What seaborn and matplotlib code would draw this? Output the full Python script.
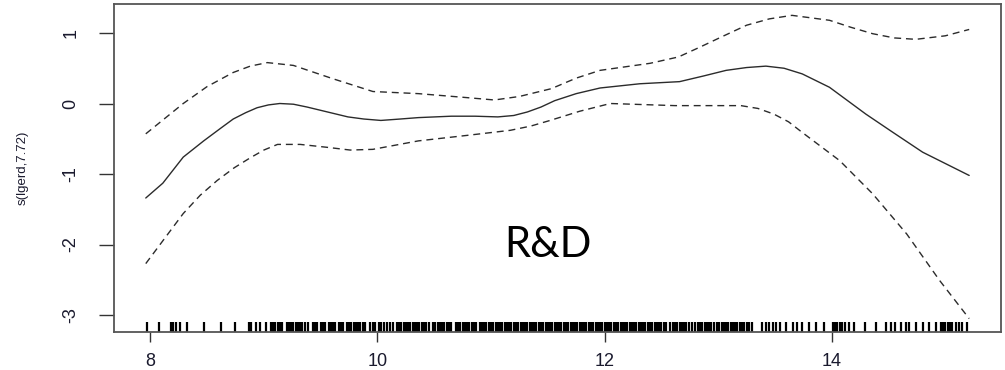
import numpy as np
import matplotlib
matplotlib.use("Agg")
import matplotlib.pyplot as plt
import seaborn as sns

# smooth term and its +/- 2 se band
x_fit = [7.96, 8.11, 8.29, 8.47, 8.62, 8.73, 8.84, 8.94, 9.04, 9.14, 9.26, 9.38, 9.56, 9.74,
         9.88, 10.03, 10.20, 10.36, 10.65, 10.86, 11.06, 11.20, 11.32, 11.44, 11.56, 11.75,
         11.96, 12.31, 12.66, 12.87, 13.07, 13.25, 13.42, 13.58, 13.74, 13.98, 14.30, 14.53,
         14.80, 15.21]
y_fit = [-1.34, -1.13, -0.76, -0.53, -0.35, -0.22, -0.13, -0.06, -0.02, 0.0, -0.01, -0.05,
         -0.12, -0.19, -0.22, -0.24, -0.22, -0.20, -0.18, -0.18, -0.19, -0.17, -0.12, -0.05,
         0.04, 0.14, 0.22, 0.28, 0.31, 0.39, 0.47, 0.51, 0.53, 0.50, 0.42, 0.23, -0.15, -0.40,
         -0.69, -1.02]

x_up = [7.96, 8.29, 8.50, 8.73, 8.88, 9.03, 9.26, 9.61, 9.96, 10.36, 10.74, 11.03, 11.25,
        11.53, 11.75, 11.96, 12.40, 12.65, 12.84, 13.05, 13.25, 13.45, 13.65, 13.98, 14.17,
        14.36, 14.55, 14.74, 15.00, 15.21]
y_up = [-0.43, 0.0, 0.24, 0.44, 0.53, 0.58, 0.54, 0.35, 0.17, 0.14, 0.09, 0.05, 0.10,
        0.21, 0.36, 0.47, 0.57, 0.66, 0.80, 0.96, 1.11, 1.20, 1.25, 1.18, 1.08, 0.99, 0.93,
        0.91, 0.96, 1.05]

x_lo = [7.96, 8.29, 8.44, 8.59, 8.74, 8.88, 9.00, 9.12, 9.32, 9.55, 9.76, 9.96, 10.36,
        10.80, 11.17, 11.35, 11.52, 11.78, 12.05, 12.62, 13.20, 13.35, 13.49, 13.62, 13.74,
        14.07, 14.36, 14.66, 14.95, 15.21]
y_lo = [-2.27, -1.56, -1.30, -1.09, -0.91, -0.77, -0.66, -0.58, -0.58, -0.62, -0.66, -0.65,
        -0.53, -0.45, -0.38, -0.32, -0.24, -0.11, 0.0, -0.03, -0.03, -0.07, -0.15, -0.26,
        -0.41, -0.81, -1.28, -1.85, -2.51, -3.05]

# observed lgerd values (rug)
rug_x = [
    7.97, 8.08, 8.18, 8.20, 8.23, 8.26, 8.32, 8.47, 8.62, 8.75, 8.87, 8.89, 8.93, 8.97,
    9.02, 9.06, 9.08, 9.10, 9.12, 9.14, 9.16,
    9.20, 9.22, 9.24, 9.26, 9.28, 9.30, 9.32, 9.34, 9.36, 9.39,
    9.43, 9.45, 9.47, 9.50, 9.52, 9.54, 9.57, 9.59, 9.61, 9.63, 9.66, 9.68, 9.70,
    9.73, 9.75, 9.77, 9.79, 9.81, 9.83, 9.85, 9.87, 9.89,
    9.93, 9.96, 9.98, 10.01, 10.03, 10.06, 10.08, 10.11, 10.14,
    10.17, 10.19, 10.21, 10.23, 10.25, 10.27, 10.29, 10.31, 10.33, 10.35, 10.37, 10.39,
    10.41, 10.43, 10.45,
    10.49, 10.51, 10.53, 10.55, 10.57, 10.59, 10.61, 10.63, 10.65,
    10.69, 10.71, 10.73, 10.75, 10.77, 10.79, 10.81, 10.83, 10.85, 10.87,
    10.90, 10.92, 10.94, 10.96, 10.98, 11.00, 11.02, 11.04, 11.06, 11.08, 11.10, 11.12,
    11.14, 11.16, 11.18, 11.20, 11.22,
    11.24, 11.26, 11.28, 11.30, 11.32, 11.34, 11.36, 11.38, 11.40, 11.42, 11.44, 11.46,
    11.48, 11.50, 11.52, 11.54, 11.56, 11.58, 11.60, 11.62, 11.64, 11.66, 11.68, 11.70,
    11.72, 11.74, 11.76, 11.78,
    11.80, 11.82, 11.84, 11.86, 11.88, 11.90,
    11.92, 11.94, 11.96, 11.98, 12.00, 12.02, 12.04, 12.06, 12.08, 12.10,
    12.12, 12.14, 12.16, 12.18, 12.20, 12.22, 12.24, 12.26, 12.28, 12.30, 12.32, 12.34,
    12.36, 12.38, 12.40, 12.42, 12.44, 12.46, 12.48, 12.50, 12.52, 12.54,
    12.58, 12.60, 12.62, 12.64, 12.66, 12.68, 12.70, 12.72, 12.74, 12.77, 12.80,
    12.82, 12.84, 12.86, 12.88, 12.90, 12.92, 12.94, 12.96,
    12.99, 13.01, 13.03, 13.05, 13.07, 13.09, 13.11, 13.13, 13.15, 13.17, 13.19, 13.21,
    13.23, 13.25, 13.27, 13.30,
    13.39, 13.42, 13.45, 13.48, 13.51, 13.54, 13.60, 13.66, 13.69, 13.74, 13.80, 13.86,
    13.93, 14.01, 14.03, 14.05, 14.07, 14.09, 14.12, 14.15, 14.20, 14.29, 14.39, 14.48,
    14.52, 14.56, 14.61, 14.65, 14.68, 14.74, 14.80, 14.86, 14.92, 14.96, 14.98, 15.00,
    15.02, 15.04, 15.06, 15.09, 15.12, 15.15, 15.19,
]

x_ticks = [8, 10, 12, 14]
y_ticks = [1, 0, -1, -2, -3]

sns.set_style("white")
plt.rcParams['font.family'] = ['Liberation Sans', 'DejaVu Sans']

fig = plt.figure(figsize=(10.05, 3.7), dpi=100)
ax = fig.add_axes([0.1134, 0.1027, 0.8826, 0.8863])

line_col = "#2b2b2b"
sns.lineplot(x=x_fit, y=y_fit, ax=ax, color=line_col, lw=1.0)
sns.lineplot(x=x_up, y=y_up, ax=ax, color=line_col, lw=1.0, linestyle=(0, (5, 3.5)))
sns.lineplot(x=x_lo, y=y_lo, ax=ax, color=line_col, lw=1.0, linestyle=(0, (5, 3.5)))
sns.rugplot(x=rug_x, ax=ax, height=0.03, color="black", linewidth=1.6,
            expand_margins=False)

ax.set_xlim(7.68, 15.49)
ax.set_ylim(-3.24, 1.41)
ax.set_xticks(x_ticks)
ax.set_yticks(y_ticks)
ax.set_xticklabels([str(v) for v in x_ticks], fontsize=13, color="#1a1a2e")
ax.set_yticklabels([str(v) for v in y_ticks], fontsize=13, color="#1a1a2e",
                   rotation=90, va="center")
ax.tick_params(axis="x", direction="out", length=7, width=1, color="#333333", pad=8, bottom=True)
ax.tick_params(axis="y", direction="out", length=11, width=1, color="#333333", pad=14, left=True)
ax.set_ylabel("s(lgerd,7.72)", fontsize=9.5, labelpad=24, color="#1a1a2e")
ax.set_xlabel("")

for s in ax.spines.values():
    s.set_visible(True)
    s.set_color("#555555")
    s.set_linewidth(1.3)

ax.text(11.5, -2.0, "R&D", fontsize=30, family=["Lato", "DejaVu Sans"],
        ha="center", va="center", color="black")

fig.savefig("out.png", dpi=100)
